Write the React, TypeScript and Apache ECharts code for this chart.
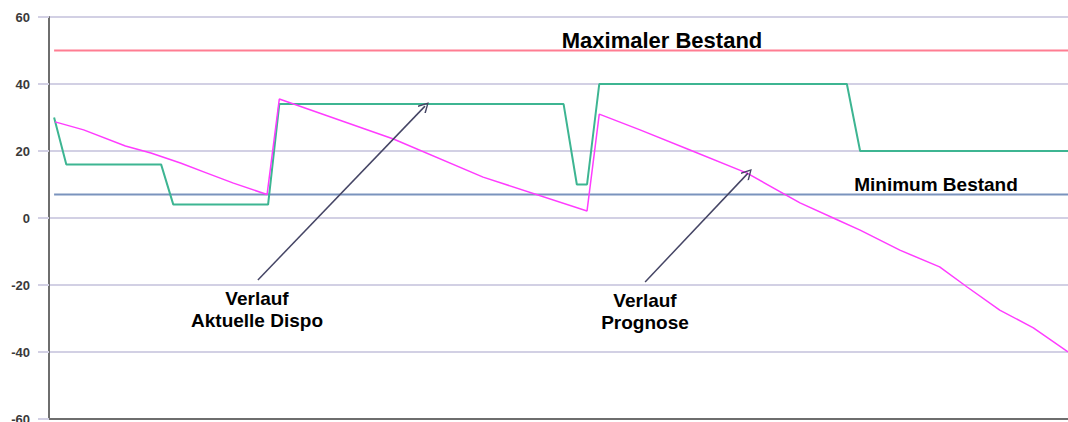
import React, { useEffect, useRef } from "react";
import * as echarts from "echarts";

// x = time (days), y = stock level
const dispoX = [0.5, 1.7, 11.0, 12.2, 21.5, 22.6, 50.5, 51.8, 52.8, 54.0, 78.3, 79.6, 100];
const dispoY = [30, 16, 16, 4, 4, 34, 34, 10, 10, 40, 40, 20, 20];

const prognoseX = [0.6, 3.4, 7.5, 10.0, 12.9, 15.5, 18.1, 21.4, 22.6, 33.8, 42.6, 52.8, 54.0, 58.0, 62.9, 68.5, 73.7, 77.4, 79.6, 83.5, 87.4, 90.1, 93.3, 96.6, 100];
const prognoseY = [28.7, 26.3, 21.5, 19.4, 16.4, 13.4, 10.4, 7.0, 35.5, 23.6, 12.2, 2.1, 31.0, 26.3, 20.3, 13.4, 4.5, -0.6, -3.6, -9.6, -14.6, -20.6, -27.5, -32.8, -40];

const maxBestand = 50;
const minBestand = 7;
const limitStartX = 0.5;
const limitEndX = 100;

const yTicks = { min: -60, max: 60, interval: 20 };

// arrow annotations: [fromX, fromY, toX, toY]
const arrowDispo = [20.5, -18.5, 36.9, 33.4];
const arrowPrognose = [58.5, -19.1, 68.6, 13.4];

const pairs = (xs: number[], ys: number[]) => xs.map((x, i) => [x, ys[i]]);

export default function App() {
  const ref = useRef<HTMLDivElement>(null);
  useEffect(() => {
    if (!ref.current) return;
    const chart = echarts.init(ref.current, undefined, { renderer: "svg" });
    const arrowSym = "path://M5,0 L10,9 L9,10 L5,2.5 L1,10 L0,9 Z";
    const font = "'Liberation Sans', Arial, sans-serif";
    chart.setOption({
      animation: false,
      grid: { left: 49, right: 0, top: 17, bottom: 13, containLabel: false },
      xAxis: {
        type: "value",
        min: 0,
        max: 100,
        axisLine: { show: true, onZero: false, lineStyle: { color: "#6e6e6e", width: 2 } },
        axisTick: { show: false },
        axisLabel: { show: false },
        splitLine: { show: false },
      },
      yAxis: {
        type: "value",
        min: yTicks.min,
        max: yTicks.max,
        interval: yTicks.interval,
        axisLine: { show: true, onZero: false, lineStyle: { color: "#6e6e6e", width: 2 } },
        axisTick: { show: true, length: 11, lineStyle: { color: "#d2d0e4", width: 2 } },
        axisLabel: {
          color: "#3a3a3a",
          fontSize: 13,
          fontWeight: "bold",
          fontFamily: font,
          margin: 19,
        },
        splitLine: { show: true, lineStyle: { color: "#d2d0e4", width: 2 } },
      },
      series: [
        {
          name: "Maximaler Bestand",
          type: "line",
          data: [[limitStartX, maxBestand], [limitEndX, maxBestand]],
          showSymbol: false,
          lineStyle: { color: "#ff7d92", width: 2 },
        },
        {
          name: "Minimum Bestand",
          type: "line",
          data: [[limitStartX, minBestand], [limitEndX, minBestand]],
          showSymbol: false,
          lineStyle: { color: "#7a93bd", width: 2 },
        },
        {
          name: "Verlauf Aktuelle Dispo",
          type: "line",
          data: pairs(dispoX, dispoY),
          showSymbol: false,
          lineStyle: { color: "#3db592", width: 2 },
        },
        {
          name: "Verlauf Prognose",
          type: "line",
          data: pairs(prognoseX, prognoseY),
          showSymbol: false,
          lineStyle: { color: "#ff3cff", width: 1.5 },
          markLine: {
            silent: true,
            symbol: ["none", arrowSym],
            symbolSize: [11, 11],
            label: { show: false },
            lineStyle: { color: "#454565", width: 1.5, type: "solid" },
            data: [
              [{ coord: [arrowDispo[0], arrowDispo[1]] }, { coord: [arrowDispo[2], arrowDispo[3]] }],
              [{ coord: [arrowPrognose[0], arrowPrognose[1]] }, { coord: [arrowPrognose[2], arrowPrognose[3]] }],
            ],
          },
        },
      ],
      graphic: [
        {
          type: "text",
          x: 662,
          y: 40,
          style: {
            text: "Maximaler Bestand",
            fill: "#000",
            font: `bold 22px ${font}`,
            textAlign: "center",
            textVerticalAlign: "middle",
          },
        },
        {
          type: "text",
          x: 936,
          y: 184,
          style: {
            text: "Minimum Bestand",
            fill: "#000",
            font: `bold 19px ${font}`,
            textAlign: "center",
            textVerticalAlign: "middle",
          },
        },
        {
          type: "text",
          x: 257,
          y: 309,
          style: {
            text: "Verlauf\nAktuelle Dispo",
            fill: "#000",
            font: `bold 19px ${font}`,
            lineHeight: 22,
            textAlign: "center",
            textVerticalAlign: "middle",
          },
        },
        {
          type: "text",
          x: 645,
          y: 311,
          style: {
            text: "Verlauf\nPrognose",
            fill: "#000",
            font: `bold 19px ${font}`,
            lineHeight: 22,
            textAlign: "center",
            textVerticalAlign: "middle",
          },
        },
      ],
    });
    return () => chart.dispose();
  }, []);
  return (
    <div
      ref={ref}
      style={{ position: "fixed", left: 0, top: 0, width: 1068, height: 432, background: "#fff" }}
    />
  );
}
